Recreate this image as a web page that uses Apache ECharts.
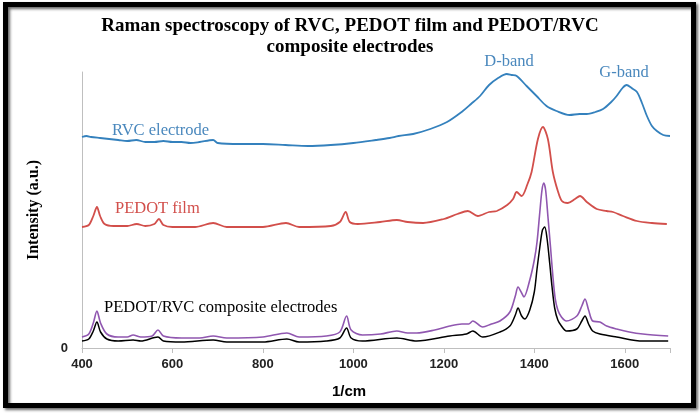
<!DOCTYPE html>
<html>
<head>
<meta charset="utf-8">
<script src="https://cdn.jsdelivr.net/npm/echarts@6/dist/echarts.min.js"></script>
<style>html,body{margin:0;padding:0;background:#fff;}#c{width:700px;height:417px;}</style>
</head>
<body>
<div id="c"></div>
<script>
const xTicks = [400, 600, 800, 1000, 1200, 1400, 1600];
const rvcX = [400,410,420,440,460,480,500,520,540,560,580,600,620,640,660,690,700,750,800,850,900,950,1000,1050,1080,1100,1132,1170,1207,1242,1260,1280,1300,1320,1339,1350,1361,1383,1405,1427,1449,1478,1500,1516,1535,1552,1570,1582,1595,1604,1615,1627,1638,1649,1660,1671,1685,1700];
const rvcY = [211,212,211,210,209,208,207,208,206,206,207,206,206,205,206,208,205,204,204,203,202,203,205,208,210,212,214,219,226,237,244,252,263,270,274,273,272,262,252,242,237,233,234,234,236,239,246,252,260,263,260,256,245,232,222,217,213,212];
const pedotX = [400,415,425,433,440,450,470,500,521,540,560,570,580,600,650,690,720,800,851,880,950,970,983,992,1010,1059,1096,1120,1154,1200,1230,1253,1275,1300,1317,1340,1353,1361,1372,1385,1394,1408,1419,1430,1441,1452,1461,1474,1490,1501,1516,1538,1560,1574,1596,1627,1660,1693];
const pedotY = [121,123,132,141,132,124,122,122,124,122,124,129,123,121,121,125,121,121,125,121,122,126,136,126,124,126,128,126,125,129,134,137,132,136,137,143,149,156,152,164,176,209,221,209,176,157,147,145,149,152,146,139,137,136,132,127,125,124];
const compX = [400,415,425,433,441,455,480,500,513,530,555,568,580,620,660,690,720,800,853,880,940,970,985,995,1020,1060,1096,1120,1140,1180,1213,1240,1255,1264,1286,1305,1324,1346,1358,1364,1372,1377,1390,1400,1406,1412,1417,1421,1425,1430,1436,1441,1446,1452,1460,1471,1494,1505,1512,1520,1529,1545,1560,1582,1610,1640,1696];
const compPurpleY = [11,14,25,37,25,14,11,11,13,11,12,18,12,10,10,12,10,11,15,11,12,16,32,18,13,14,17,15,15,18,22,24,24,27,21,24,27,36,52,61,55,51,68,88,106,135,158,165,158,132,100,72,50,38,31,27,32,42,49,38,27,26,22,19,16,14,12];
const blackX = [400,415,425,433,441,455,480,513,530,568,580,620,690,720,800,853,880,940,970,985,995,1020,1096,1140,1213,1250,1264,1286,1324,1346,1358,1364,1372,1379,1390,1400,1406,1412,1418,1423,1428,1434,1439,1445,1452,1460,1471,1494,1505,1512,1520,1529,1545,1582,1640,1696];
const blackY = [7,9,17,26,16,9,7,8,7,11,7,6,8,6,6,9,6,7,10,20,10,7,10,7,12,14,17,11,16,22,33,40,32,29,38,56,79,100,118,121,110,85,62,40,28,22,17,19,27,32,24,17,14,11,7,7];

const zip = (xs, ys) => xs.map((x, i) => [x, ys[i]]);
const chart = echarts.init(document.getElementById('c'), null, {renderer: 'canvas'});
const serif = '"Liberation Serif", "DejaVu Serif", serif';
const sans = '"Liberation Sans", Arial, sans-serif';
chart.setOption({
  animation: false,
  backgroundColor: '#fff',
  title: {
    text: 'Raman spectroscopy of RVC, PEDOT film and PEDOT/RVC\ncomposite electrodes',
    left: 'center', top: 11,
    textStyle: {fontFamily: serif, fontWeight: 'bold', fontSize: 19, lineHeight: 21, color: '#000'}
  },
  grid: {left: 82, right: 30, top: 72, bottom: 69},
  xAxis: {
    type: 'value', min: 400, max: 1700, interval: 200,
    axisLine: {lineStyle: {color: '#bfbfbf', width: 1}},
    axisTick: {show: true, length: 5, lineStyle: {color: '#bfbfbf'}},
    splitLine: {show: false},
    axisLabel: {fontFamily: sans, fontWeight: 'bold', fontSize: 13, color: '#222', margin: 10,
      formatter: v => xTicks.includes(v) ? String(v) : ''}
  },
  yAxis: {
    type: 'value', min: 0, max: 276, interval: 1000,
    name: 'Intensity (a.u.)', nameLocation: 'middle', nameGap: 40,
    nameTextStyle: {fontFamily: serif, fontWeight: 'bold', fontSize: 16, color: '#000'},
    axisLine: {show: true, lineStyle: {color: '#bfbfbf', width: 1}},
    axisTick: {show: false},
    splitLine: {show: false},
    axisLabel: {fontFamily: sans, fontWeight: 'bold', fontSize: 13, color: '#222', margin: 14,
      formatter: v => v === 0 ? '0' : ''}
  },
  series: [
    {type: 'line', name: 'RVC electrode', data: zip(rvcX, rvcY), showSymbol: false, smooth: 0.3,
      lineStyle: {color: '#3481bd', width: 1.8}},
    {type: 'line', name: 'PEDOT film', data: zip(pedotX, pedotY), showSymbol: false, smooth: 0.3,
      lineStyle: {color: '#d24f4b', width: 1.8}},
    {type: 'line', name: 'PEDOT/RVC composite (upper)', data: zip(compX, compPurpleY), showSymbol: false, smooth: 0.3,
      lineStyle: {color: '#9057b0', width: 1.6}},
    {type: 'line', name: 'PEDOT/RVC composite (lower)', data: zip(blackX, blackY), showSymbol: false, smooth: 0.3,
      lineStyle: {color: '#000', width: 1.5}}
  ],
  graphic: [
    {type: 'rect', shape: {x: 5.5, y: 4.5, width: 688, height: 401},
      style: {fill: 'none', stroke: '#000', lineWidth: 5, shadowBlur: 3, shadowOffsetX: 2, shadowOffsetY: 2, shadowColor: 'rgba(0,0,0,0.6)'}},
    {type: 'text', x: 112, y: 131, style: {text: 'RVC electrode', fontFamily: serif, fontSize: 16.5, fill: '#4a88bd', verticalAlign: 'middle'}},
    {type: 'text', x: 115, y: 209, style: {text: 'PEDOT film', fontFamily: serif, fontSize: 16.5, fill: '#d24f4b', verticalAlign: 'middle'}},
    {type: 'text', x: 104, y: 308, style: {text: 'PEDOT/RVC composite electrodes', fontFamily: serif, fontSize: 16.5, fill: '#000', verticalAlign: 'middle'}},
    {type: 'text', x: 509, y: 62, style: {text: 'D-band', fontFamily: serif, fontSize: 16.5, fill: '#4a88bd', align: 'center', verticalAlign: 'middle'}},
    {type: 'text', x: 624, y: 73, style: {text: 'G-band', fontFamily: serif, fontSize: 16.5, fill: '#4a88bd', align: 'center', verticalAlign: 'middle'}},
    {type: 'text', x: 349, y: 392, style: {text: '1/cm', fontFamily: sans, fontWeight: 'bold', fontSize: 15, fill: '#000', align: 'center', verticalAlign: 'middle'}}
  ]
});
</script>
</body>
</html>
